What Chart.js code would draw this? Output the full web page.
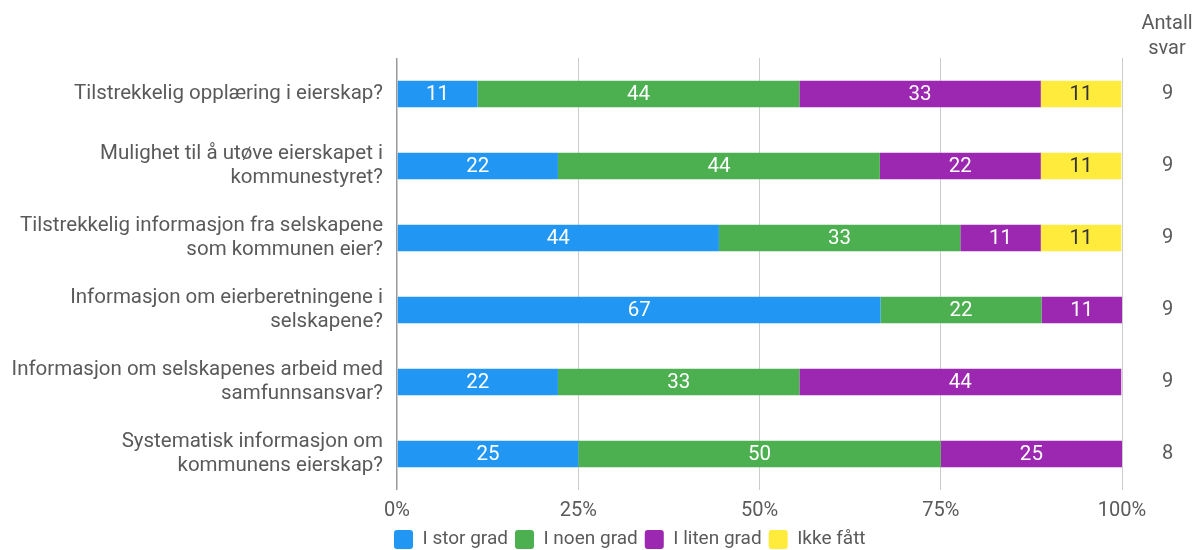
<!DOCTYPE html>
<html>
<head>
<meta charset="utf-8">
<script src="https://cdn.jsdelivr.net/npm/chart.js@4/dist/chart.umd.min.js"></script>
<style>
  html, body { margin: 0; padding: 0; background: #fff; }
  #wrap { width: 1198px; height: 550px; position: relative; }
</style>
</head>
<body>
<div id="wrap"><canvas id="c"></canvas></div>
<script>
const categories = [
  ["Tilstrekkelig opplæring i eierskap?"],
  ["Mulighet til å utøve eierskapet i", "kommunestyret?"],
  ["Tilstrekkelig informasjon fra selskapene", "som kommunen eier?"],
  ["Informasjon om eierberetningene i", "selskapene?"],
  ["Informasjon om selskapenes arbeid med", "samfunnsansvar?"],
  ["Systematisk informasjon om", "kommunens eierskap?"]
];
const seriesNames = ["I stor grad", "I noen grad", "I liten grad", "Ikke fått"];
const iStorGrad   = [11.1, 22.2, 44.4, 66.7, 22.2, 25];
const iNoenGrad   = [44.4, 44.4, 33.3, 22.2, 33.3, 50];
const iLitenGrad  = [33.3, 22.2, 11.1, 11.1, 44.4, 25];
const ikkeFatt    = [11.1, 11.1, 11.1, 0, 0, 0];
const antallSvar  = ["9", "9", "9", "9", "9", "8"];
const antallTitle = ["Antall", "svar"];
const xTicks = [0, 25, 50, 75, 100];

const colors = ["#2196F3", "#4CAF50", "#9C27B0", "#FFEB3B"];
const labelColors = ["#ffffff", "#ffffff", "#ffffff", "#333333"];
const textColor = "#5a5a5a";
const FONT = "Roboto";

const valueLabels = {
  id: "valueLabels",
  afterDatasetsDraw(chart) {
    const ctx = chart.ctx;
    ctx.save();
    ctx.font = "20.5px " + FONT;
    ctx.textAlign = "center";
    ctx.textBaseline = "middle";
    chart.data.datasets.forEach((ds, di) => {
      const meta = chart.getDatasetMeta(di);
      meta.data.forEach((el, i) => {
        const v = ds.data[i];
        if (!v) return;
        ctx.fillStyle = labelColors[di];
        ctx.fillText(String(Math.round(v)), (el.x + el.base) / 2, el.y + 1);
      });
    });
    ctx.restore();
  }
};

const headerPlugin = {
  id: "header",
  afterDraw(chart) {
    const s = chart.scales.yRight;
    const ctx = chart.ctx;
    ctx.save();
    ctx.font = "20px " + FONT;
    ctx.fillStyle = textColor;
    ctx.textAlign = "center";
    ctx.textBaseline = "middle";
    const cx = (s.left + s.right) / 2 + 7;
    antallTitle.forEach((t, i) => {
      ctx.fillText(t, cx, chart.chartArea.top - 34 + i * 25);
    });
    ctx.restore();
  }
};

const legendShift = {
  id: "legendShift",
  afterLayout(chart) {
    const lg = chart.legend;
    if (lg) { lg.left -= 10; lg.right -= 10; lg.top += 4; lg.bottom += 4; }
  }
};

new Chart(document.getElementById("c"), {
  type: "bar",
  data: {
    labels: categories,
    datasets: [iStorGrad, iNoenGrad, iLitenGrad, ikkeFatt].map((d, i) => ({
      label: seriesNames[i],
      data: d,
      backgroundColor: colors[i],
      borderWidth: 0,
      barPercentage: 0.365,
      categoryPercentage: 1
    }))
  },
  options: {
    indexAxis: "y",
    responsive: true,
    maintainAspectRatio: false,
    animation: false,
    devicePixelRatio: 1,
    layout: { padding: { top: 58, left: 0, right: 0, bottom: 0 } },
    scales: {
      x: {
        stacked: true,
        min: 0, max: 100,
        afterBuildTicks(scale) { scale.ticks = xTicks.map(v => ({ value: v })); },
        afterFit(scale) { scale.height = 29; },
        grid: {
          color: (c) => (c.tick && c.tick.value === 0) ? "#999999" : "#cccccc",
          lineWidth: (c) => (c.tick && c.tick.value === 0) ? 1.5 : 1,
          drawTicks: false
        },
        border: { display: false },
        ticks: {
          color: textColor,
          font: { family: FONT, size: 20 },
          padding: 9,
          callback: (v) => v + "%"
        }
      },
      y: {
        stacked: true,
        grid: { display: false, drawTicks: false },
        border: { display: false },
        afterFit(scale) { scale.width = 397; },
        ticks: {
          color: textColor,
          font: { family: FONT, size: 20.5, lineHeight: 1.2 },
          padding: 14
        }
      },
      yRight: {
        type: "category",
        axis: "y",
        position: "right",
        labels: antallSvar,
        offset: true,
        grid: { display: false, drawTicks: false },
        border: { display: false },
        afterFit(scale) { scale.width = 76; },
        ticks: {
          color: textColor,
          font: { family: FONT, size: 20 },
          padding: 40
        }
      }
    },
    plugins: {
      legend: {
        position: "bottom",
        align: "start",
        fullSize: false,
        maxHeight: 31,
        labels: {
          color: textColor,
          font: { family: FONT, size: 19 },
          boxWidth: 19,
          boxHeight: 19,
          useBorderRadius: true,
          borderRadius: 3,
          padding: 7
        }
      },
      tooltip: { enabled: false }
    }
  },
  plugins: [valueLabels, headerPlugin, legendShift]
});
</script>
</body>
</html>
